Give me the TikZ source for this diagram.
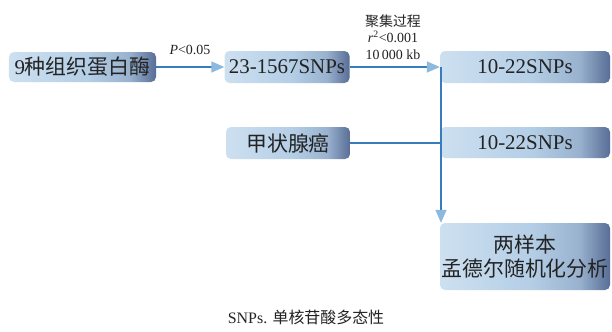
\documentclass[tikz,border=0pt]{standalone}
\usepackage{fontspec}
\setmainfont{Liberation Serif}
\newfontfamily\cjk{Noto Sans CJK SC}
\usetikzlibrary{arrows.meta}
\definecolor{boxL}{RGB}{205,224,240}
\definecolor{boxM}{RGB}{180,206,230}
\definecolor{boxR}{RGB}{88,110,150}
\definecolor{linec}{RGB}{55,125,190}
\definecolor{arrowc}{RGB}{140,185,222}
\definecolor{txt}{RGB}{35,35,35}
\pgfdeclarehorizontalshading{boxshade}{100bp}{color(0bp)=(boxL); color(25bp)=(boxL); color(52bp)=(boxM); color(66bp)=(boxM!70!boxR); color(75bp)=(boxR); color(100bp)=(boxR)}
\tikzset{
  boxnode/.style={rectangle, rounded corners=5bp, shading=boxshade, draw=none, text=txt, font=\fontsize{21}{24}\selectfont, inner sep=0pt, align=center},
  conn/.style={draw=linec, line width=1.4bp},
  arr/.style={conn, -{Triangle[length=13bp,width=11bp,color=arrowc]}},
  lbl/.style={text=txt, font=\fontsize{14}{16.5}\selectfont, inner sep=0pt, align=center}
}
\begin{document}
\begin{tikzpicture}[x=1bp,y=-1bp]
\useasboundingbox[fill=white] (0,0) rectangle (612,331);
\node[boxnode, minimum width=147bp, minimum height=30bp] (b1) at (82.5,67) {9{\cjk 种组织蛋白酶}};
\node[boxnode, minimum width=125bp, minimum height=32bp] (b2) at (287,67) {23-1567SNPs};
\node[boxnode, minimum width=170bp, minimum height=32bp] (b3) at (525,67) {10-22SNPs};
\node[boxnode, minimum width=124bp, minimum height=32bp] (b4) at (288,143) {\cjk 甲状腺癌};
\node[boxnode, minimum width=170bp, minimum height=31bp] (b5) at (525,142.5) {10-22SNPs};
\node[boxnode, minimum width=170bp, minimum height=67bp] (b6) at (525,256.5) {\cjk 两样本\\[1bp]\cjk 孟德尔随机化分析};
\node[lbl] (p) at (190,50) {\textit{P}<0.05};
\node[lbl] (clu) at (393,37) {{\cjk 聚集过程}\\\textit{r}\textsuperscript{2}<0.001\\10\,000 kb};
\node[text=txt, font=\fontsize{16}{19}\selectfont, inner sep=0pt] (cap) at (306,317) {SNPs. {\cjk 单核苷酸多态性}};
\coordinate (top) at (441,67);
\coordinate (join) at (441,143);
\draw[arr] (b1.east) -- (b2.west);
\draw[arr] (b2.east) -- (b3.west);
\draw[conn] (b4.east) -- (join);
\draw[arr] (top) -- (b6.north -| top);
\end{tikzpicture}
\end{document}
